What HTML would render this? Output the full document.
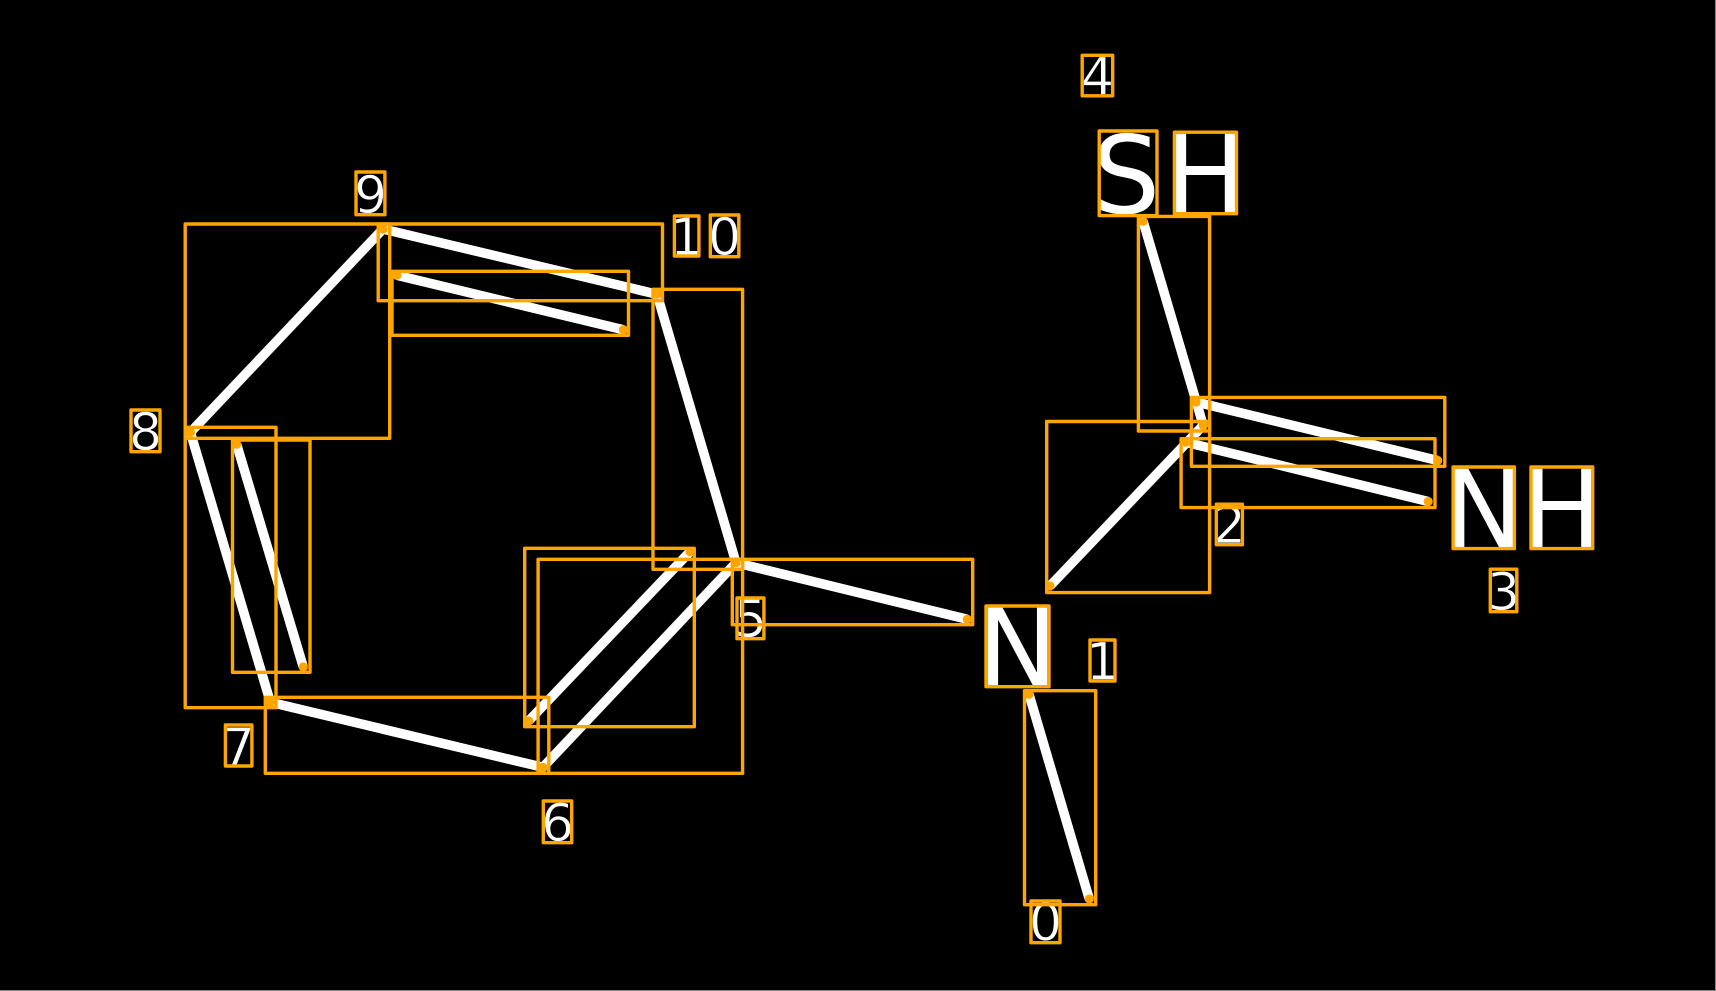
<!DOCTYPE html>
<html><head><meta charset="utf-8"><style>
html,body{margin:0;padding:0;background:#000;width:1716px;height:991px;overflow:hidden}
svg{display:block}
text{font-family:"DejaVu Sans",sans-serif;fill:#fff;text-anchor:middle}
.b line{stroke:#fff;stroke-width:9.5;stroke-linecap:butt}
.j circle{fill:#fff;r:4.7px}
.r rect{fill:none;stroke:#ffa500;stroke-width:3.4;stroke-linejoin:round}
.d circle{fill:#ffa500;r:4.6px}
.s{font-size:52px;stroke:#000;stroke-width:.7px}.l{font-size:108px}
</style></head><body>
<svg width="1716" height="991" viewBox="0 0 1716 991" xmlns="http://www.w3.org/2000/svg">
<rect width="1716" height="991" fill="#000"/>
<rect y="990" width="1716" height="1" fill="#888"/>
<rect x="1715" width="1" height="991" fill="#888"/>
<g class="b">
<line x1="1089.3" y1="899" x2="1029" y2="694.3"/>
<line x1="1050" y1="586" x2="1203.2" y2="425.3"/>
<line x1="1196.1" y1="402" x2="1437.7" y2="460.5"/>
<line x1="1185.8" y1="442.2" x2="1428.2" y2="501.5"/>
<line x1="1143.1" y1="221.3" x2="1203.2" y2="425.3"/>
<line x1="967.3" y1="619.3" x2="736" y2="562.7"/>
<line x1="736" y1="562.7" x2="657" y2="294.3"/>
<line x1="657" y1="294.3" x2="383" y2="229"/>
<line x1="623.4" y1="329.7" x2="396.8" y2="275.3"/>
<line x1="383" y1="229" x2="190.4" y2="432.3"/>
<line x1="190.4" y1="432.3" x2="270.4" y2="702.3"/>
<line x1="236.6" y1="444.3" x2="303.3" y2="667"/>
<line x1="270.4" y1="702.3" x2="542.9" y2="767.3"/>
<line x1="542.9" y1="767.3" x2="736" y2="562.7"/>
<line x1="528.6" y1="721" x2="690" y2="551.7"/>
</g>
<g class="j">
<circle cx="736" cy="562.7"/><circle cx="657" cy="294.3"/><circle cx="383" cy="229"/>
<circle cx="190.4" cy="432.3"/><circle cx="270.4" cy="702.3"/><circle cx="542.9" cy="767.3"/>
<circle cx="1203.2" cy="425.3"/>
</g>
<g>
<text class="s" x="1045.5" y="940.5">0</text>
<text class="s" x="1102.5" y="679.5">1</text>
<text class="s" x="1229.3" y="543">2</text>
<text class="s" x="1503.5" y="610">3</text>
<text class="s" x="1097.5" y="94.5">4</text>
<text class="s" x="750.5" y="637">5</text>
<text class="s" x="557.5" y="841">6</text>
<text class="s" x="238.6" y="764.8">7</text>
<text class="s" x="145.5" y="450">8</text>
<text class="s" x="370.5" y="213">9</text>
<text class="s" x="686.6" y="254.8">1</text>
<text class="s" x="724.5" y="255">0</text>
<text class="l" x="1017.5" y="685.5">N</text>
<text class="l" x="1126" y="213">S</text>
<text class="l" x="1205.5" y="212.5">H</text>
<text class="l" x="1483.8" y="547.5">N</text>
<text class="l" x="1561.8" y="547.5">H</text>
</g>
<g class="r">
<rect x="1024.5" y="690.7" width="71.2" height="214"/>
<rect x="1046.7" y="421.5" width="162.9" height="171.1"/>
<rect x="1191.4" y="397.4" width="253.4" height="68.9"/>
<rect x="1181.1" y="438.7" width="253.9" height="68.9"/>
<rect x="1138.4" y="216.4" width="71.2" height="214.6"/>
<rect x="732.3" y="559.3" width="240.4" height="65.4"/>
<rect x="653" y="289.3" width="89.6" height="280"/>
<rect x="378.2" y="224" width="284.3" height="76.7"/>
<rect x="392" y="271.3" width="236.5" height="64"/>
<rect x="185.2" y="224" width="204.5" height="214.3"/>
<rect x="185.2" y="427.3" width="90.8" height="280.4"/>
<rect x="232.5" y="440" width="77.5" height="232.3"/>
<rect x="265.3" y="697.3" width="283.5" height="76"/>
<rect x="538.1" y="559.3" width="204.5" height="214"/>
<rect x="524.7" y="548.3" width="169.6" height="178.4"/>
<rect x="1031" y="901" width="29" height="41.7"/>
<rect x="1090" y="640" width="25" height="41"/>
<rect x="1216.3" y="504.2" width="26.1" height="40.5"/>
<rect x="1490.3" y="569.2" width="26.5" height="42.5"/>
<rect x="1082.2" y="55.3" width="30.5" height="40.5"/>
<rect x="737" y="598" width="26.9" height="40.7"/>
<rect x="543.3" y="801" width="28.4" height="41.7"/>
<rect x="225.4" y="725" width="26.5" height="41"/>
<rect x="131" y="410" width="29" height="41.7"/>
<rect x="356" y="172" width="28.9" height="42.7"/>
<rect x="674.4" y="216" width="24.5" height="40"/>
<rect x="710.3" y="215" width="28.5" height="41.7"/>
<rect x="986" y="606" width="63" height="80.7"/>
<rect x="1099.2" y="131" width="57.8" height="84.6"/>
<rect x="1174.4" y="132.2" width="62.1" height="81.5"/>
<rect x="1453.1" y="467" width="61.3" height="81.6"/>
<rect x="1531" y="467" width="61.7" height="81.6"/>
</g>
<g class="d">
<circle cx="1089.3" cy="899"/><circle cx="1029" cy="694.3"/>
<circle cx="1050" cy="586"/><circle cx="1203.2" cy="425.3"/>
<circle cx="1196.1" cy="402"/><circle cx="1437.7" cy="460.5"/>
<circle cx="1185.8" cy="442.2"/><circle cx="1428.2" cy="501.5"/>
<circle cx="1143.1" cy="221.3"/>
<circle cx="967.3" cy="619.3"/><circle cx="736" cy="562.7"/>
<circle cx="657" cy="294.3"/><circle cx="383" cy="229"/>
<circle cx="623.4" cy="329.7"/><circle cx="396.8" cy="275.3"/>
<circle cx="190.4" cy="432.3"/><circle cx="270.4" cy="702.3"/>
<circle cx="236.6" cy="444.3"/><circle cx="303.3" cy="667"/>
<circle cx="542.9" cy="767.3"/><circle cx="528.6" cy="721"/><circle cx="690" cy="551.7"/>
</g>
</svg>
</body></html>
